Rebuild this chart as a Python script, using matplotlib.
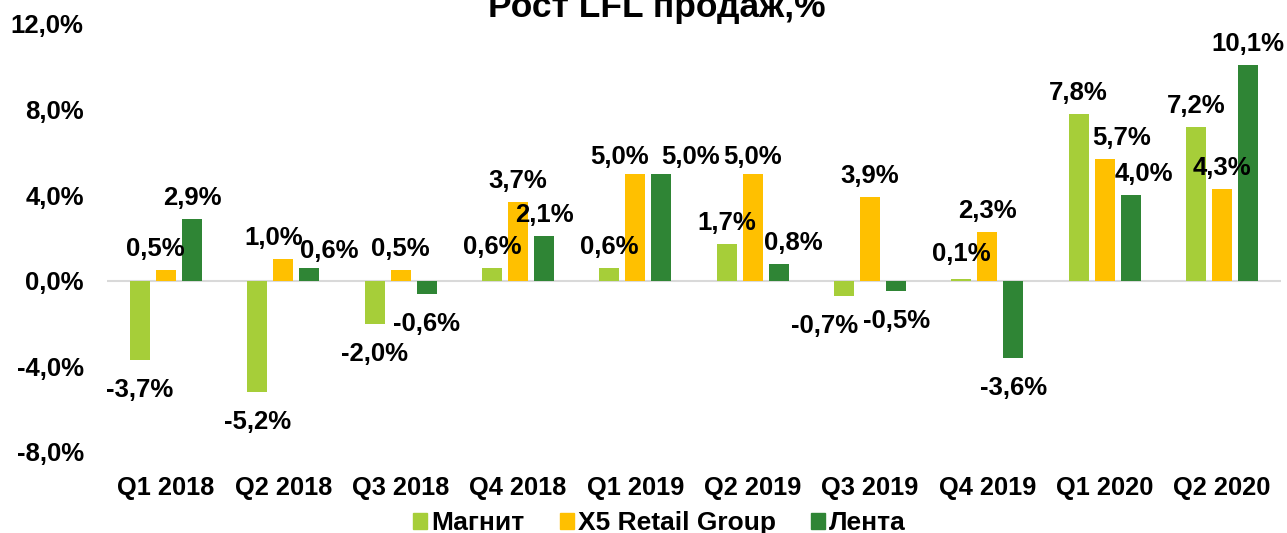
import numpy as np
import matplotlib.pyplot as plt
from matplotlib.patches import Patch

plt.rcParams['font.family'] = ['Liberation Sans', 'DejaVu Sans']
plt.rcParams['font.weight'] = 'bold'

quarters = ['Q1 2018', 'Q2 2018', 'Q3 2018', 'Q4 2018', 'Q1 2019',
            'Q2 2019', 'Q3 2019', 'Q4 2019', 'Q1 2020', 'Q2 2020']
magnit = [-3.7, -5.2, -2.0, 0.6, 0.6, 1.7, -0.7, 0.1, 7.8, 7.2]
x5 = [0.5, 1.0, 0.5, 3.7, 5.0, 5.0, 3.9, 2.3, 5.7, 4.3]
lenta = [2.9, 0.6, -0.6, 2.1, 5.0, 0.8, -0.5, -3.6, 4.0, 10.1]

series = [('Магнит', magnit, '#A6CE39'),
          ('X5 Retail Group', x5, '#FFC000'),
          ('Лента', lenta, '#2F8535')]

# label nudges in pixels (series, quarter): (dx, dy), как в исходнике
nudge = {(1, 0): (-11, 0), (1, 1): (-10, 0), (2, 1): (20, -4),
         (1, 4): (-16, -4), (2, 4): (29, -4), (1, 5): (0, -4), (2, 5): (15, 0),
         (0, 6): (-19, 0), (0, 7): (0, 4),
         (1, 8): (17, 0), (2, 8): (13, 0)}

DPI = 100
fig = plt.figure(figsize=(12.87, 5.33), dpi=DPI)
ax = fig.add_axes([0.0834, 0.152, 0.9117, 0.803])

x = np.arange(len(quarters))
w = 0.17
step = 0.222
px = 72 / DPI
for i, (name, vals, col) in enumerate(series):
    pos = x + (i - 1) * step
    ax.bar(pos, vals, w, color=col, label=name, zorder=2)
    for j, (p, v) in enumerate(zip(pos, vals)):
        dx, dy = nudge.get((i, j), (0, 0))
        off = 21 if v >= 0 else -30
        ax.annotate(f'{v:.1f}%'.replace('.', ','), (p, v),
                    xytext=(dx * px, (off + dy) * px), textcoords='offset points',
                    ha='center', va='center', fontsize=18.5, fontweight='bold',
                    annotation_clip=False)

ax.axhline(0, color='#D9D9D9', lw=1.5, zorder=1)
ax.set_ylim(-8, 12)
ax.set_xlim(-0.5, len(quarters) - 0.5)
yt = np.arange(-8, 13, 4)
ax.set_yticks(yt)
ax.set_yticklabels([f'{t:.1f}%'.replace('.', ',') for t in yt],
                   fontsize=18.5, fontweight='bold')
ax.set_xticks(x)
ax.set_xticklabels(quarters, fontsize=18.3, fontweight='bold')
ax.tick_params(axis='both', length=0)
ax.tick_params(axis='y', pad=17)
ax.tick_params(axis='x', pad=17)
for s in ax.spines.values():
    s.set_visible(False)

fig.text(0.5105, 1 - 17 / 533, 'Рост LFL продаж,%', ha='center', va='baseline',
         fontsize=25.5, fontweight='bold')

handles = [Patch(color=c, label=n) for n, _, c in series]
fig.legend(handles=handles, loc='center', bbox_to_anchor=(0.5124, 0.018), ncol=3,
           frameon=False, fontsize=19, handlelength=0.52, handleheight=0.52,
           handletextpad=0.15, columnspacing=1.35, borderpad=0, borderaxespad=0)

fig.savefig('out.png', dpi=DPI)
